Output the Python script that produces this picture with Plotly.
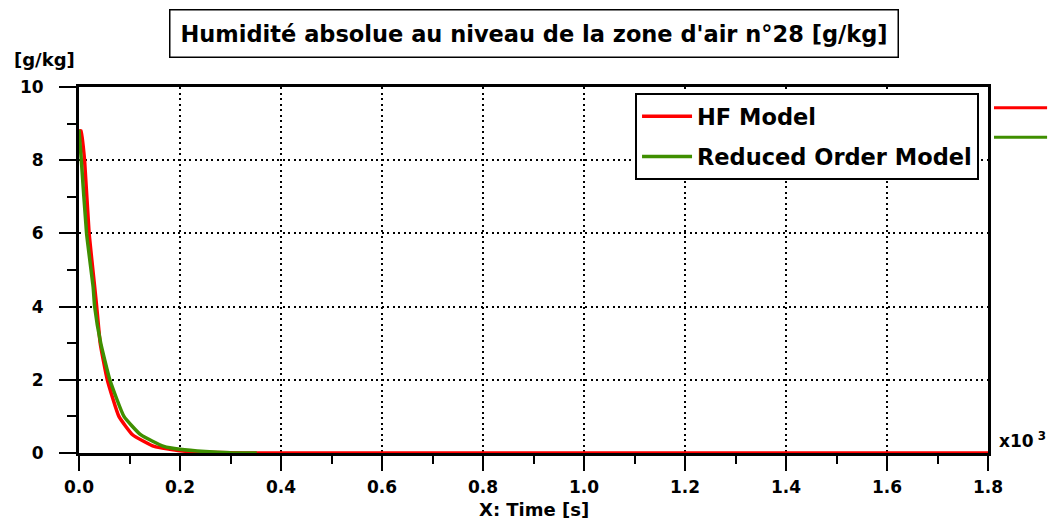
import plotly.graph_objects as go

# Time axis is expressed in thousands of seconds (x10^3 s)
hf_time = [0.0, 0.004, 0.011, 0.020, 0.031, 0.035, 0.042, 0.056, 0.079, 0.106,
           0.149, 0.200, 0.250, 0.300, 0.350, 1.800]
hf_humidity = [8.80, 8.80, 8.00, 6.00, 4.54, 4.00, 3.00, 2.00, 1.00, 0.50,
               0.18, 0.06, 0.02, 0.005, 0.0, 0.0]

rom_time = [0.0, 0.0046, 0.015, 0.028, 0.031, 0.043, 0.061, 0.089, 0.122,
            0.168, 0.200, 0.250, 0.300, 0.352]
rom_humidity = [8.83, 8.00, 6.00, 4.54, 4.00, 3.00, 2.00, 1.00, 0.50,
                0.18, 0.10, 0.04, 0.01, 0.0]

x_ticks = [0.0, 0.2, 0.4, 0.6, 0.8, 1.0, 1.2, 1.4, 1.6, 1.8]
y_ticks = [0, 2, 4, 6, 8, 10]

FONT = "DejaVu Sans"
RED = "#ff0000"
GREEN = "#3f8f00"

fig = go.Figure()
fig.add_trace(go.Scatter(x=hf_time, y=hf_humidity, mode="lines", name="HF Model",
                         legendgroup="hf",
                         line=dict(color=RED, width=3.5, shape="spline", smoothing=0.4)))
fig.add_trace(go.Scatter(x=rom_time, y=rom_humidity, mode="lines", name="Reduced Order Model",
                         legendgroup="rom",
                         line=dict(color=GREEN, width=3.5, shape="spline", smoothing=0.4)))

axis_common = dict(
    showline=True, linecolor="black", linewidth=3, mirror=True,
    showgrid=True, gridcolor="black", gridwidth=1.5, griddash="2px,3.5px",
    zeroline=False,
    ticks="outside", tickcolor="black", tickwidth=2,
    tickfont=dict(family=FONT, size=17, color="black", weight="bold"),
)

fig.update_xaxes(
    range=[0, 1.8], tickvals=x_ticks, ticktext=[f"{v:.1f}" for v in x_ticks],
    ticklen=15, ticklabelstandoff=2,
    minor=dict(ticks="outside", ticklen=8, tickwidth=2, tickcolor="black",
               dtick=0.1, tick0=0, showgrid=False),
    **axis_common,
)
fig.update_yaxes(
    range=[0, 10], tickvals=y_ticks, ticktext=[str(v) for v in y_ticks],
    ticklen=17, ticklabelstandoff=12,
    minor=dict(ticks="outside", ticklen=9, tickwidth=2, tickcolor="black",
               dtick=1, tick0=0, showgrid=False),
    **axis_common,
)

annotations = [
    dict(text="Humidité absolue au niveau de la zone d'air n°28 [g/kg]",
         x=0.5006, y=1.1475, xref="paper", yref="paper",
         xanchor="center", yanchor="middle", showarrow=False,
         font=dict(family=FONT, size=22.5, color="black", weight="bold"),
         bordercolor="black", borderwidth=1.5, borderpad=10, bgcolor="white"),
    dict(text="[g/kg]", x=-0.0385, y=1.0738, xref="paper", yref="paper",
         xanchor="center", yanchor="middle", showarrow=False,
         font=dict(family=FONT, size=18, color="black", weight="bold")),
    dict(text="x10<sup> 3</sup>", x=1.0099, y=0.035, xref="paper", yref="paper",
         xanchor="left", yanchor="middle", showarrow=False,
         font=dict(family=FONT, size=17, color="black", weight="bold")),
    dict(text="X: Time [s]", x=0.5006, y=-0.1557, xref="paper", yref="paper",
         xanchor="center", yanchor="middle", showarrow=False,
         font=dict(family=FONT, size=18, color="black", weight="bold")),
]

# Colour keys beside the right edge of the frame
shapes = [
    dict(type="line", xref="paper", yref="paper", x0=1.0066, x1=1.065,
         y0=0.9434, y1=0.9434, line=dict(color=RED, width=3)),
    dict(type="line", xref="paper", yref="paper", x0=1.0066, x1=1.065,
         y0=0.8626, y1=0.8626, line=dict(color=GREEN, width=3)),
]

fig.update_layout(
    width=1052, height=522,
    margin=dict(l=79, r=64, t=87, b=69),
    paper_bgcolor="white", plot_bgcolor="white",
    font=dict(family=FONT, color="black"),
    showlegend=True,
    legend=dict(x=0.6117, y=0.9836, xanchor="left", yanchor="top",
                bgcolor="white", bordercolor="black", borderwidth=2,
                itemwidth=50, tracegroupgap=8,
                font=dict(family=FONT, size=22.5, color="black", weight="bold")),
    annotations=annotations,
    shapes=shapes,
)

fig.write_html("out.html")
